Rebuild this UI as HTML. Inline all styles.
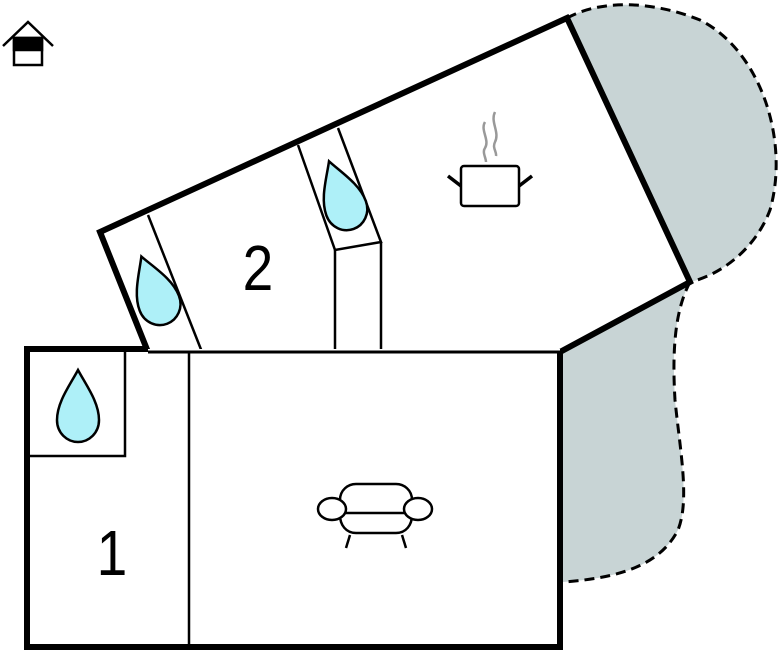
<!DOCTYPE html>
<html><head><meta charset="utf-8"><style>html,body{margin:0;padding:0;background:#fff}svg{display:block}</style></head>
<body>
<svg width="780" height="652" viewBox="0 0 780 652" xmlns="http://www.w3.org/2000/svg">
<defs>
<path id="drop" d="M0,-38 C-8,-23 -21,-6 -21,12 C-21,25 -11,34 0,34 C11,34 21,25 21,12 C21,-6 8,-23 0,-38 Z" fill="#aef0f8" stroke="#000" stroke-width="2.5"/>
</defs>
<path d="M567,18 C600,0 650,0 700,20 C760,50 790,140 770,210 C755,250 720,275 690,282 Z" fill="#c8d4d5"/>
<path d="M567,18 C600,0 650,0 700,20 C760,50 790,140 770,210 C755,250 720,275 690,282" fill="none" stroke="#000" stroke-width="3" stroke-dasharray="10,6"/>
<path d="M690,282 C675,310 672,350 675,400 C680,450 690,500 678,530 C660,565 620,578 563,582 L560,352 Z" fill="#c8d4d5"/>
<path d="M690,282 C675,310 672,350 675,400 C680,450 690,500 678,530 C660,565 620,578 563,582" fill="none" stroke="#000" stroke-width="3" stroke-dasharray="10,6"/>
<polygon points="100,232 567,18 690,282 560,352 148,352" fill="#fff"/>
<polyline points="148,352 100,232 567,18 690,282 560,352" fill="none" stroke="#000" stroke-width="6" stroke-linejoin="miter"/>
<g stroke="#000" stroke-width="2.5" fill="none">
<line x1="148" y1="215" x2="202" y2="352"/>
<polyline points="298,145 335,250 381,242 338,128"/>
<line x1="335" y1="250" x2="335" y2="352"/>
<line x1="381" y1="242" x2="381" y2="352"/>
</g>
<rect x="27" y="349" width="533" height="298" fill="#fff"/>
<line x1="148" y1="352" x2="560" y2="352" stroke="#000" stroke-width="3"/>
<polyline points="148,349 27,349 27,647 560,647 560,352" fill="none" stroke="#000" stroke-width="6"/>
<g stroke="#000" stroke-width="2.5" fill="none">
<polyline points="30,456 125,456 125,352"/>
<line x1="189" y1="352" x2="189" y2="647"/>
</g>
<use href="#drop" transform="translate(78,408)"/>
<use href="#drop" transform="translate(155,292) rotate(-21)"/>
<use href="#drop" transform="translate(342,197) rotate(-20)"/>
<text x="258" y="290" font-family="Liberation Sans, sans-serif" font-size="58" text-anchor="middle" transform="translate(258,290) scale(0.95,1.1) translate(-258,-290)">2</text>
<text x="112" y="575" font-family="Liberation Sans, sans-serif" font-size="58" text-anchor="middle" transform="translate(112,575) scale(0.95,1.1) translate(-112,-575)">1</text>
<g stroke="#000" stroke-width="2.5" fill="#fff">
<rect x="461" y="166" width="58" height="40" rx="3"/>
<line x1="448" y1="176" x2="461" y2="186" stroke-width="3.5"/>
<line x1="532" y1="176" x2="519" y2="186" stroke-width="3.5"/>
</g>
<g stroke="#999" stroke-width="2.5" fill="none">
<path d="M485,122 C480,130 490,140 485,148 C482,152 486,158 486,162"/>
<path d="M495,112 C490,122 500,132 495,142 C492,148 497,152 496,156"/>
</g>
<g stroke="#000" stroke-width="2.5" fill="#fff">
<path d="M340,500 C340,490 348,484 356,484 L396,484 C404,484 412,490 412,500 L412,515 C412,525 406,533 396,533 L356,533 C346,533 340,525 340,515 Z"/>
<line x1="340" y1="513" x2="412" y2="513"/>
<ellipse cx="332" cy="509" rx="14" ry="11"/>
<ellipse cx="418" cy="509" rx="14" ry="11"/>
<line x1="350" y1="535" x2="346" y2="548"/>
<line x1="402" y1="535" x2="406" y2="548"/>
</g>
<g stroke="#000" stroke-width="2.5" fill="none">
<polyline points="3,46 28,22 53,46"/>
<rect x="14" y="38" width="28" height="27" fill="#fff"/>
<rect x="14" y="38" width="28" height="12" fill="#000"/>
</g>
</svg>
</body></html>
